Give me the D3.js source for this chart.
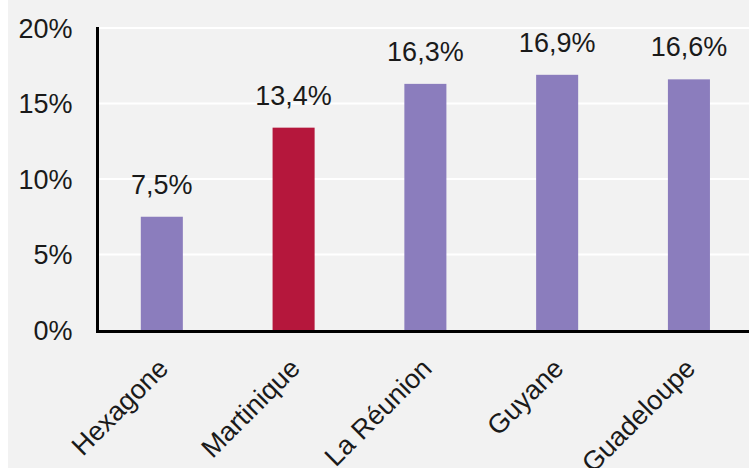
<!DOCTYPE html>
<html>
<head>
<meta charset="utf-8">
<script src="https://cdn.jsdelivr.net/npm/d3@7"></script>
<style>
  html, body { margin: 0; padding: 0; background: #fff; }
  svg { display: block; font-family: "Liberation Sans", Arial, sans-serif; }
</style>
</head>
<body>
<svg id="viz"></svg>
<script>
// ----------------------- DATA
const categories = ['Hexagone', 'Martinique', 'La Réunion', 'Guyane', 'Guadeloupe'];
const values = [7.5, 13.4, 16.3, 16.9, 16.6];
const highlighted = ['Martinique'];
const yTicks = [0, 5, 10, 15, 20];

// ----------------------- SETTINGS
const width = 749,
  height = 468;

const svg = d3.select('#viz')
  .attr('width', width)
  .attr('height', height);

// grey panel, white strip on the left
svg.append('rect')
  .attr('x', 8)
  .attr('y', 0)
  .attr('width', width - 8)
  .attr('height', height)
  .attr('fill', '#f2f2f2');

// ----------------------- SCALES
const x = d3.scaleBand()
  .domain(categories)
  .range([96, 96 + 5 * 131.75])
  .paddingInner(0.681)
  .paddingOuter(0.34);

const y = d3.scaleLinear()
  .domain([0, 20])
  .range([330, 28]);

const fmt = v => d3.format('.1f')(v).replace('.', ',') + '%';

// gridlines
svg.append('g')
  .selectAll('line')
  .data(yTicks.filter(d => d > 0))
  .enter().append('line')
  .attr('x1', 99)
  .attr('x2', width)
  .attr('y1', d => y(d))
  .attr('y2', d => y(d))
  .attr('stroke', '#ffffff')
  .attr('stroke-width', 2);

// y axis
const yAxis = d3.axisLeft(y)
  .tickValues(yTicks)
  .tickSize(0)
  .tickPadding(25)
  .tickFormat(d => d + '%');

const gy = svg.append('g')
  .attr('transform', 'translate(97.5, 0)')
  .call(yAxis);
gy.select('.domain').remove();
gy.selectAll('text')
  .attr('fill', '#1a1a1a')
  .style('font-size', '27px')
  .attr('dy', '0.35em');

// bars
svg.selectAll('.bar')
  .data(categories)
  .enter().append('rect')
  .attr('class', 'bar')
  .attr('x', d => x(d))
  .attr('y', (d, i) => y(values[i]))
  .attr('width', x.bandwidth())
  .attr('height', (d, i) => y(0) - y(values[i]))
  .attr('fill', d => highlighted.includes(d) ? '#b5173c' : '#8b7dbd');

// value labels
svg.selectAll('.val')
  .data(categories)
  .enter().append('text')
  .attr('class', 'val')
  .attr('x', d => x(d) + x.bandwidth() / 2)
  .attr('y', (d, i) => y(values[i]) - 23)
  .attr('text-anchor', 'middle')
  .style('font-size', '27px')
  .attr('fill', '#1a1a1a')
  .text((d, i) => fmt(values[i]));

// axis lines
svg.append('line')
  .attr('x1', 97.5).attr('x2', 97.5)
  .attr('y1', 27).attr('y2', 333)
  .attr('stroke', '#000').attr('stroke-width', 3);
svg.append('line')
  .attr('x1', 96).attr('x2', width)
  .attr('y1', 331.5).attr('y2', 331.5)
  .attr('stroke', '#000').attr('stroke-width', 3);

// category labels, rotated
svg.selectAll('.cat')
  .data(categories)
  .enter().append('text')
  .attr('class', 'cat')
  .attr('transform', d => `translate(${x(d) + x.bandwidth() / 2 + 8}, 370) rotate(-45)`)
  .attr('text-anchor', 'end')
  .style('font-size', '27px')
  .attr('fill', '#1a1a1a')
  .text(d => d);
</script>
</body>
</html>
